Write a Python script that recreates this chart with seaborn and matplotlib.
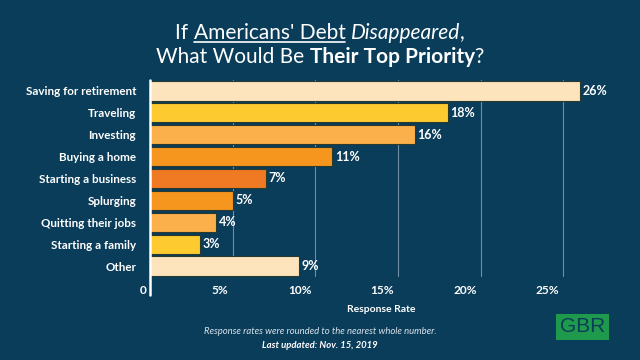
import matplotlib
matplotlib.use('Agg')
import matplotlib.pyplot as plt
import matplotlib.transforms as mtransforms
from matplotlib.lines import Line2D
from matplotlib.patches import Rectangle
import seaborn as sns
import pandas as pd

# Data
priorities = ['Saving for retirement', 'Traveling', 'Investing', 'Buying a home',
              'Starting a business', 'Splurging', 'Quitting their jobs',
              'Starting a family', 'Other']
shares = [26, 18, 16, 11, 7, 5, 4, 3, 9]
bar_colors = ['#FDE4BD', '#FDCB30', '#FBB04B', '#F7961E', '#F07A23',
              '#F7961E', '#FBB04B', '#FDCB30', '#FDE4BD']
x_ticks = [0, 5, 10, 15, 20, 25]
x_tick_labels = ['0', '5%', '10%', '15%', '20%', '25%']

df = pd.DataFrame({'priority': priorities, 'share': shares})

BG = '#0A3D5A'
FONT = ['Lato', 'DejaVu Sans']

sns.set_theme(style='white')
plt.rcParams['font.family'] = FONT

fig = plt.figure(figsize=(6.4, 3.6), dpi=100, facecolor=BG)
ax = fig.add_axes([150 / 640, 1 - 277 / 360, 463 / 640, 197 / 360])
ax.set_facecolor(BG)

sns.barplot(data=df, y='priority', x='share', hue='priority', palette=bar_colors,
            saturation=1, legend=False, width=0.88, edgecolor='#2B3A2E',
            linewidth=0.8, ax=ax, zorder=3)

ax.set_xlim(0, 28)
ax.set_xticks(x_ticks)
ax.set_xticklabels(x_tick_labels)
ax.xaxis.grid(True, color='#6F8FA5', linewidth=0.8, zorder=0)
ax.yaxis.grid(False)
for s in ax.spines.values():
    s.set_visible(False)
ax.axvline(0, ymin=-0.09, ymax=1, color='white', linewidth=1.8, clip_on=False, zorder=4)

ax.tick_params(axis='x', length=0, pad=6, labelsize=8.6, labelcolor='white')
ax.tick_params(axis='y', length=0, pad=10, labelsize=8.4, labelcolor='white')
for lab in ax.get_xticklabels():
    lab.set_fontweight('bold')
    lab.set_horizontalalignment('right')
    lab.set_transform(lab.get_transform() + mtransforms.ScaledTranslation(-4 / 100, 0, fig.dpi_scale_trans))
for lab in ax.get_yticklabels():
    lab.set_fontweight('bold')

for cont in ax.containers:
    ax.bar_label(cont, fmt='%d%%', padding=2, color='white', fontsize=9, fontweight='bold')

ax.set_ylabel('')
ax.set_xlabel('Response Rate', color='white', fontsize=7.5, fontweight='bold', labelpad=6)

# Title with mixed styling
renderer = fig.canvas.get_renderer()


def mixed_line(parts, y, size):
    texts = []
    for txt, kw in parts:
        t = fig.text(0, y, txt, fontsize=size, color='white', va='center', ha='left', **kw)
        texts.append(t)
    widths = [t.get_window_extent(renderer).width for t in texts]
    total = sum(widths)
    x = (fig.bbox.width - total) / 2
    for t, w in zip(texts, widths):
        t.set_x(x / fig.bbox.width)
        x += w
    return texts


line1 = mixed_line([('If ', {}), ("Americans' Debt", {}), (' ', {}),
                    ('Disappeared', {'style': 'italic'}), (',', {})],
                   1 - 33 / 360, 15)
line2 = mixed_line([('What Would Be ', {}), ('Their Top Priority', {'fontweight': 'bold'}),
                    ('?', {})], 1 - 57 / 360, 15)

bb = line1[1].get_window_extent(renderer)
uy = bb.y0 + 1
fig.add_artist(Line2D([bb.x0 / fig.bbox.width, bb.x1 / fig.bbox.width],
                      [uy / fig.bbox.height, uy / fig.bbox.height],
                      color='white', linewidth=1.2, transform=fig.transFigure))

fig.text(0.5, 1 - 332 / 360, 'Response rates were rounded to the nearest whole number.',
         ha='center', va='center', fontsize=6.8, style='italic', color='#D8E2EA')
fig.text(0.5, 1 - 345 / 360, 'Last updated: Nov. 15, 2019',
         ha='center', va='center', fontsize=6.8, style='italic', fontweight='bold', color='white')

# GBR logo
fig.add_artist(Rectangle((556 / 640, 1 - 340 / 360), 53 / 640, 26 / 360,
                         transform=fig.transFigure, facecolor='#1F9A4C', edgecolor='none'))
fig.text(582.5 / 640, 1 - 327 / 360, 'GBR', ha='center', va='center', fontsize=15,
         color='#0A3D5A', family=['Liberation Sans', 'DejaVu Sans'])

fig.savefig('out.png', dpi=100, facecolor=BG)
